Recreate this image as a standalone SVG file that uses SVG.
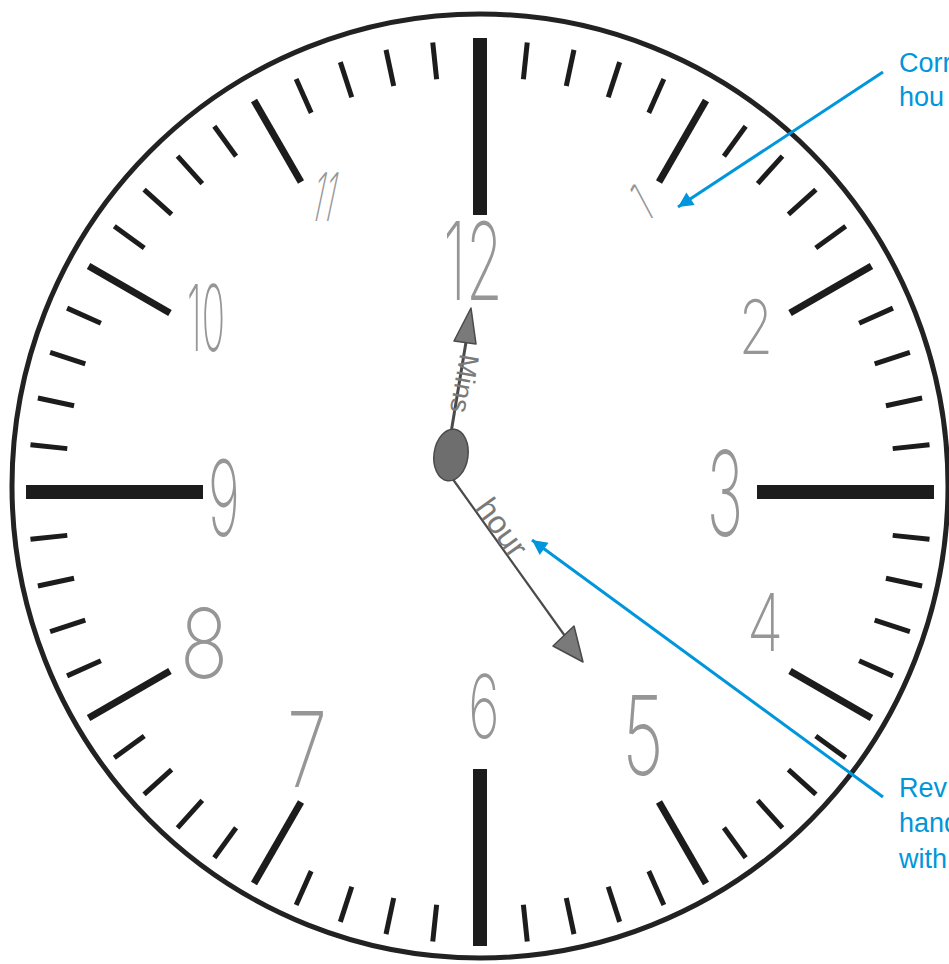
<svg xmlns="http://www.w3.org/2000/svg" xmlns:xlink="http://www.w3.org/1999/xlink" width="949" height="964" viewBox="0 0 949 964">
<style>
.rim{fill:#fff;stroke:#222;stroke-width:5}
.mn{stroke:#1c1c1c;stroke-width:5}
.hr{stroke:#1c1c1c;stroke-width:7}
.maj{stroke:#1c1c1c;stroke-width:14}
.num{font-family:Inter,"DejaVu Sans","Liberation Sans",sans-serif;font-weight:200;fill:#969696;text-anchor:middle}
.hw{font-family:"Liberation Sans",sans-serif;fill:#7a7a7a;text-anchor:middle}
.hand{stroke:#4a4a4a;fill:none}
.head{fill:#7a7a7a;stroke:#4a4a4a;stroke-width:1.5;stroke-linejoin:round}
.note{font-family:"Liberation Sans",Arial,sans-serif;font-size:27px;fill:#0096db}
.conn{stroke:#0096db;stroke-width:3;fill:none}
</style>
<defs>
<line id="mt" class="mn" x1="480" y1="40" x2="480" y2="77"/>
<line id="ht" class="hr" x1="480" y1="40" x2="480" y2="134"/>
<line id="jt" class="maj" x1="480" y1="38" x2="480" y2="215"/>
<marker id="ah" viewBox="0 0 10 10" refX="10" refY="5" markerWidth="6.5" markerHeight="5" orient="auto">
<path d="M0,0 L10,5 L0,10 z" fill="#0096db"/>
</marker>
</defs>
<rect width="949" height="964" fill="#fff"/>
<g id="clock-face">
<ellipse class="rim" cx="480" cy="486" rx="468" ry="472"/>
<g id="ticks">
<use xlink:href="#jt"/>
<use xlink:href="#jt" transform="rotate(90 480 492)"/>
<use xlink:href="#jt" transform="rotate(180 480 492)"/>
<use xlink:href="#jt" transform="rotate(270 480 492)"/>
<use xlink:href="#ht" transform="rotate(30 480 492)"/>
<use xlink:href="#ht" transform="rotate(60 480 492)"/>
<use xlink:href="#ht" transform="rotate(120 480 492)"/>
<use xlink:href="#ht" transform="rotate(150 480 492)"/>
<use xlink:href="#ht" transform="rotate(210 480 492)"/>
<use xlink:href="#ht" transform="rotate(240 480 492)"/>
<use xlink:href="#ht" transform="rotate(300 480 492)"/>
<use xlink:href="#ht" transform="rotate(330 480 492)"/>
<use xlink:href="#mt" transform="rotate(6 480 492)"/>
<use xlink:href="#mt" transform="rotate(12 480 492)"/>
<use xlink:href="#mt" transform="rotate(18 480 492)"/>
<use xlink:href="#mt" transform="rotate(24 480 492)"/>
<use xlink:href="#mt" transform="rotate(36 480 492)"/>
<use xlink:href="#mt" transform="rotate(42 480 492)"/>
<use xlink:href="#mt" transform="rotate(48 480 492)"/>
<use xlink:href="#mt" transform="rotate(54 480 492)"/>
<use xlink:href="#mt" transform="rotate(66 480 492)"/>
<use xlink:href="#mt" transform="rotate(72 480 492)"/>
<use xlink:href="#mt" transform="rotate(78 480 492)"/>
<use xlink:href="#mt" transform="rotate(84 480 492)"/>
<use xlink:href="#mt" transform="rotate(96 480 492)"/>
<use xlink:href="#mt" transform="rotate(102 480 492)"/>
<use xlink:href="#mt" transform="rotate(108 480 492)"/>
<use xlink:href="#mt" transform="rotate(114 480 492)"/>
<use xlink:href="#mt" transform="rotate(126 480 492)"/>
<use xlink:href="#mt" transform="rotate(132 480 492)"/>
<use xlink:href="#mt" transform="rotate(138 480 492)"/>
<use xlink:href="#mt" transform="rotate(144 480 492)"/>
<use xlink:href="#mt" transform="rotate(156 480 492)"/>
<use xlink:href="#mt" transform="rotate(162 480 492)"/>
<use xlink:href="#mt" transform="rotate(168 480 492)"/>
<use xlink:href="#mt" transform="rotate(174 480 492)"/>
<use xlink:href="#mt" transform="rotate(186 480 492)"/>
<use xlink:href="#mt" transform="rotate(192 480 492)"/>
<use xlink:href="#mt" transform="rotate(198 480 492)"/>
<use xlink:href="#mt" transform="rotate(204 480 492)"/>
<use xlink:href="#mt" transform="rotate(216 480 492)"/>
<use xlink:href="#mt" transform="rotate(222 480 492)"/>
<use xlink:href="#mt" transform="rotate(228 480 492)"/>
<use xlink:href="#mt" transform="rotate(234 480 492)"/>
<use xlink:href="#mt" transform="rotate(246 480 492)"/>
<use xlink:href="#mt" transform="rotate(252 480 492)"/>
<use xlink:href="#mt" transform="rotate(258 480 492)"/>
<use xlink:href="#mt" transform="rotate(264 480 492)"/>
<use xlink:href="#mt" transform="rotate(276 480 492)"/>
<use xlink:href="#mt" transform="rotate(282 480 492)"/>
<use xlink:href="#mt" transform="rotate(288 480 492)"/>
<use xlink:href="#mt" transform="rotate(294 480 492)"/>
<use xlink:href="#mt" transform="rotate(306 480 492)"/>
<use xlink:href="#mt" transform="rotate(312 480 492)"/>
<use xlink:href="#mt" transform="rotate(318 480 492)"/>
<use xlink:href="#mt" transform="rotate(324 480 492)"/>
<use xlink:href="#mt" transform="rotate(336 480 492)"/>
<use xlink:href="#mt" transform="rotate(342 480 492)"/>
<use xlink:href="#mt" transform="rotate(348 480 492)"/>
<use xlink:href="#mt" transform="rotate(354 480 492)"/>
</g>
</g>
<g id="numerals">
<text class="num" font-size="108" transform="translate(473 300) scale(0.55 1)">12</text>
<text class="num" font-size="46" transform="translate(650 218) skewX(28) scale(0.8 1)">1</text>
<text class="num" font-size="75" transform="translate(756 354) scale(0.74 1)">2</text>
<text class="num" font-size="118" transform="translate(725 536) scale(0.52 1)">3</text>
<text class="num" font-size="80" transform="translate(765 651) scale(0.74 1)">4</text>
<text class="num" font-size="110" transform="translate(643 775) scale(0.65 1)">5</text>
<text class="num" font-size="88" transform="translate(484 738) scale(0.61 1)">6</text>
<text class="num" font-size="105" transform="translate(307 787) scale(0.69 1)">7</text>
<text class="num" font-size="97" transform="translate(204 678) scale(0.83 1)">8</text>
<text class="num" font-size="105" transform="translate(224 536) scale(0.52 1)">9</text>
<text class="num" font-size="92" transform="translate(206 351) scale(0.42 1)">10</text>
<text class="num" font-size="67" transform="translate(320 221) skewX(-12) scale(0.45 1)">11</text>
</g>
<g id="minute-hand">
<line class="hand" stroke-width="3" x1="449" y1="445" x2="467" y2="336"/>
<polygon class="head" points="471,308 454,341 476,344"/>
<text class="hw" font-size="28" transform="translate(455 382) rotate(100)">Mins</text>
</g>
<g id="hour-hand">
<line class="hand" stroke-width="2.2" x1="452" y1="478" x2="570" y2="643"/>
<polygon class="head" points="583,662 553,646 574,626"/>
<text class="hw" font-size="32" transform="translate(493 534) rotate(54)">hour</text>
</g>
<g id="hub">
<ellipse cx="451" cy="455" rx="17" ry="26" transform="rotate(8 451 455)" fill="#6e6e6e" stroke="#4a4a4a" stroke-width="1.5"/>
</g>
<g id="connectors">
<line class="conn" x1="883" y1="72" x2="678" y2="207" marker-end="url(#ah)"/>
<line class="conn" x1="883" y1="797" x2="532" y2="540" marker-end="url(#ah)"/>
</g>
<g id="label-correct">
<text class="note" x="899" y="72">Corr</text>
<text class="note" x="899" y="106">hou</text>
</g>
<g id="label-reversed">
<text class="note" x="899" y="797">Rev</text>
<text class="note" x="899" y="832">hand</text>
<text class="note" x="899" y="868">with</text>
</g>
</svg>
